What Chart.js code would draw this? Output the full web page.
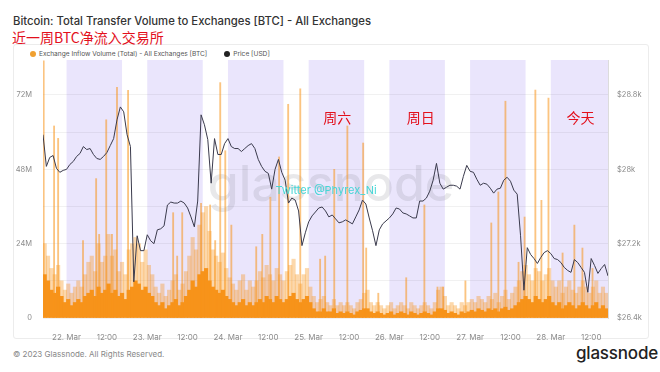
<!DOCTYPE html>
<html>
<head>
<meta charset="utf-8">
<script src="https://cdn.jsdelivr.net/npm/chart.js@4.4.1/dist/chart.umd.min.js"></script>
<style>
  body{margin:0;width:660px;height:372px;background:#fff;position:relative;overflow:hidden;font-family:Inter,"Noto Sans",sans-serif}
  .abs{position:absolute;white-space:nowrap}
  #title{left:13px;top:14px;font-size:11.3px;color:#333;font-weight:500}
  #sub{left:12px;top:28px;font-size:14px;color:#e3101c;font-family:"Noto Sans CJK SC",sans-serif;line-height:18px}
  #card{left:13px;top:44px;width:634px;height:293px;border:1px solid #ececec;border-radius:3px}
  #legend{left:30px;top:50px;font-size:6.6px;color:#555}
  #legend i{display:inline-block;width:6px;height:6px;border-radius:50%;margin-right:3px;vertical-align:-0.5px}
  #foot{left:13px;top:349px;font-size:8px;color:#888}
  #logo{left:576px;top:343px;font-size:17px;color:#222;font-weight:500;letter-spacing:-0.2px}
  #wrap{position:absolute;left:0;top:0;width:660px;height:372px}
</style>
</head>
<body>
<div id="card" class="abs"></div>
<div id="title" class="abs">Bitcoin: Total Transfer Volume to Exchanges [BTC] - All Exchanges</div>
<div id="sub" class="abs">近一周BTC净流入交易所</div>
<div id="legend" class="abs"><i style="background:#f0a030"></i>Exchange Inflow Volume (Total) - All Exchanges [BTC]<span style="display:inline-block;width:17px"></span><i style="background:#222"></i>Price [USD]</div>
<div id="foot" class="abs">© 2023 Glassnode. All Rights Reserved.</div>
<div id="logo" class="abs">glassnode</div>
<div id="wrap"><canvas id="c"></canvas></div>
<script>
// hours since 21 Mar 17:00 (hourly)
const xTickHours=[7,19,31,43,55,67,79,91,103,115,127,139,151,163];
const xTickLabels=["22. Mar","12:00","23. Mar","12:00","24. Mar","12:00","25. Mar","12:00","26. Mar","12:00","27. Mar","12:00","28. Mar","12:00"];
const bandStart=[7,31,55,79,103,127,151];
const bandEnd=[23.5,47.5,71.5,95.5,119.5,143.5,168];

// price, one value per hour (h0..h168)
const priceUSD=[
28373,28032,28128,28149,28011,27968,27989,28000,28053,28085,
28139,28171,28245,28213,28224,28160,28117,28107,28139,28181,
28256,28331,28533,28672,28619,28373,28245,26790,27285,27125,
27125,27296,27232,27200,27349,27360,27392,27616,27648,27637,
27637,27659,27637,27584,27488,27381,27659,28587,28480,28320,
27851,28331,28160,28160,28277,28331,28245,28224,28224,28192,
28224,28256,28277,28224,28107,28032,27979,27957,27787,28000,
28107,27968,27883,27637,27691,27669,27552,27179,27317,27435,
27499,27541,27584,27595,27552,27488,27509,27467,27424,27435,
27456,27435,27413,27488,27563,27669,27627,27477,27339,27179,
27349,27413,27445,27477,27520,27584,27573,27531,27520,27499,
27477,27477,27659,27659,27691,27765,27883,28064,27851,27787,
27808,27829,27829,27819,27787,27925,28043,27979,27968,27893,
27829,27851,27840,27797,27744,27787,27797,27883,27915,27872,
27776,27733,27285,26699,27157,27083,27040,26987,27051,27104,
27125,27093,27040,27029,26997,26944,26912,26891,27029,26997,
26944,26891,26677,27040,26965,26880,26933,26976,26853];

// inflow, typical level per hour [M BTC]
const inflowBase=[
14,12,9,8,10,7,5,6,4,5, 6,5,7,8,9,7,10,8,9,11,
8,9,7,8,6,9,10,12,11,9, 10,8,7,5,4,5,3,4,5,6,
4,5,7,9,12,10,14,15,16,12, 10,9,8,9,7,6,5,4,5,6,
4,5,4,5,6,5,7,6,5,7, 6,5,6,7,8,6,5,6,7,5,
3,2,2,3,2,2,3,1.5,2,1.5, 2,1.5,1,2,2.5,3,3,2,1.5,2,
1.5,1,1.5,2,1,1.5,2,1.5,1,2, 1.5,1,1.5,2,1.5,1,2,3,3,2.5,
1.5,2,1.5,1,2,1.5,2,2.5,2,3, 2.5,2,3,2.5,3,2,3,3.5,2.5,3,
4,5,6,7,6,5,7,6,5,6, 7,5,4,5,3,4,5,4,3,4,
5,4,3,4,5,3,4,3];
// inflow, hourly highs [M BTC]
const inflowHigh=[
24,20,16,14,17,12,9,11,8,10, 12,10,14,18,20,15,24,18,20,27,
20,22,15,18,14,22,24,26,24,18, 22,17,14,10,8,11,7,9,12,14,
9,11,15,20,26,22,30,34,36,28, 22,20,18,21,16,13,11,9,12,14,
9,12,10,12,15,13,17,14,12,16, 14,12,15,17,19,14,11,14,16,10,
7,5,6,7,5,4,6,4,5,4, 5,4,3,5,6,8,9,5,4,5,
4,3,4,5,3,4,5,4,3,5, 4,3,4,5,4,3,5,9,10,7,
4,5,4,3,5,4,5,6,5,7, 6,5,7,6,8,5,7,9,6,8,
10,12,15,17,14,12,16,15,12,14, 16,12,10,12,8,10,12,9,8,10,
12,10,8,10,12,8,10,8];
// single large transfers
const spikeHours=[0.2,3.3,4.5,11.9,15.8,16.7,18.8,20.5,22.0,25.3,38.7,39.9,41.4,47.0,49.7,51.2,52.7,54.2,56.0,63.4,65.2,67.6,70.2,72.9,76.5,82.4,83.9,86.6,90.5,95.2,96.1,99.7,108.0,113.4,117.3,119.0,125.6,133.3,135.4,137.5,141.4,143.2,146.4,148.2,150.3,154.5,158.0,160.4,163.4];
const spikeValues=[83,62,58,25,45,27,64,27,74.5,73.5,34,20,34,37,36.5,25,76,54,30,23,27,39,52,69,74,19,20,48,62,56.5,22.6,8,13,36.5,10,10,12,30.7,40.7,70,18,32.6,73.6,38,71,21,30,22.6,16];

const ORANGE="#f7931a";
const BAND="rgba(190,175,245,0.32)";
const TICK="#8c8c8c";
const M=1e6;

const decor={
  id:"decor",
  beforeDraw(chart){
    const {ctx,chartArea:a,scales:{x}}=chart;
    ctx.save(); ctx.fillStyle=BAND;
    bandStart.forEach((s,i)=>{
      const x0=x.getPixelForValue(s), x1=x.getPixelForValue(bandEnd[i]);
      ctx.fillRect(x0,a.top,x1-x0,a.bottom-a.top);
    });
    ctx.restore();
  },
  beforeDatasetsDraw(chart){
    const {ctx}=chart;
    ctx.save();
    ctx.font="500 50px Inter, sans-serif"; ctx.fillStyle="rgba(110,110,125,0.16)";
    ctx.textAlign="center"; ctx.textBaseline="middle";
    ctx.fillText("glassnode",331,186);
    ctx.restore();
  },
  afterDatasetsDraw(chart){
    const {ctx,scales:{x}}=chart;
    ctx.save();
    ctx.textAlign="center"; ctx.textBaseline="middle";
    ctx.font="11px Inter, sans-serif"; ctx.fillStyle="#45d6d6";
    ctx.fillText("Twitter @Phyrex_Ni",326,191);
    ctx.font="14px 'Noto Sans CJK SC', sans-serif"; ctx.fillStyle="#e3101c";
    [["周六",87.5],["周日",112.3],["今天",159.8]].forEach(([t,h])=>ctx.fillText(t,x.getPixelForValue(h),118));
    ctx.restore();
  }
};

const tickFont={family:"Inter, sans-serif",size:7.5};

new Chart(document.getElementById("c"),{
  type:"line",
  data:{datasets:[
    {type:"line",label:"Price [USD]",yAxisID:"y1",order:0,
     data:priceUSD.map((p,i)=>({x:i,y:p})),
     borderColor:"#3a3a4c",borderWidth:1,pointRadius:0,tension:0},
    {type:"bar",label:"Spikes",yAxisID:"y",order:1,grouped:false,
     data:spikeHours.map((h,i)=>({x:h,y:spikeValues[i]*M})),
     backgroundColor:"rgba(247,147,26,0.55)",barThickness:1.2},
    {type:"bar",label:"Inflow",yAxisID:"y",order:2,grouped:false,
     data:inflowBase.map((v,i)=>({x:i+0.5,y:v*M})),
     backgroundColor:ORANGE,barThickness:3.5},
    {type:"bar",label:"Inflow high",yAxisID:"y",order:3,grouped:false,
     data:inflowHigh.map((v,i)=>({x:i+0.5,y:v*M})),
     backgroundColor:"rgba(247,147,26,0.36)",barThickness:3.5}
  ]},
  options:{
    responsive:true,maintainAspectRatio:false,animation:false,
    layout:{padding:{top:60,left:0,right:0,bottom:0}},
    plugins:{legend:{display:false},tooltip:{enabled:false}},
    scales:{
      x:{type:"linear",min:0,max:168,offset:false,
        afterBuildTicks(s){ s.ticks=xTickHours.map(v=>({value:v})); },
        afterFit(s){ s.height=54; },
        ticks:{color:TICK,font:{...tickFont,size:8},padding:7,maxRotation:0,autoSkip:false,
          callback:(v)=>xTickLabels[xTickHours.indexOf(v)]},
        grid:{display:false},border:{display:false}},
      y:{position:"left",min:0,max:83.3*M,
        afterBuildTicks(s){ s.ticks=[0,12,24,36,48,60,72].map(v=>({value:v*M})); },
        afterFit(s){ s.width=43; },
        ticks:{color:TICK,font:tickFont,padding:11,
          callback:(v)=>v%(24*M)===0?(v===0?"0":v/M+"M"):""},
        grid:{color:"rgba(0,0,0,0.055)",drawTicks:false},border:{display:false}},
      y1:{position:"right",min:26400,max:29177,
        afterBuildTicks(s){ s.ticks=[26400,27200,28000,28800].map(v=>({value:v})); },
        afterFit(s){ s.width=52; },
        ticks:{color:TICK,font:tickFont,padding:9,
          callback:(v)=>"$"+(v/1000).toString()+"k"},
        grid:{drawOnChartArea:false,drawTicks:false},border:{display:true,color:"#dcdcdc"}}
    }
  },
  plugins:[decor]
});
</script>
</body>
</html>
